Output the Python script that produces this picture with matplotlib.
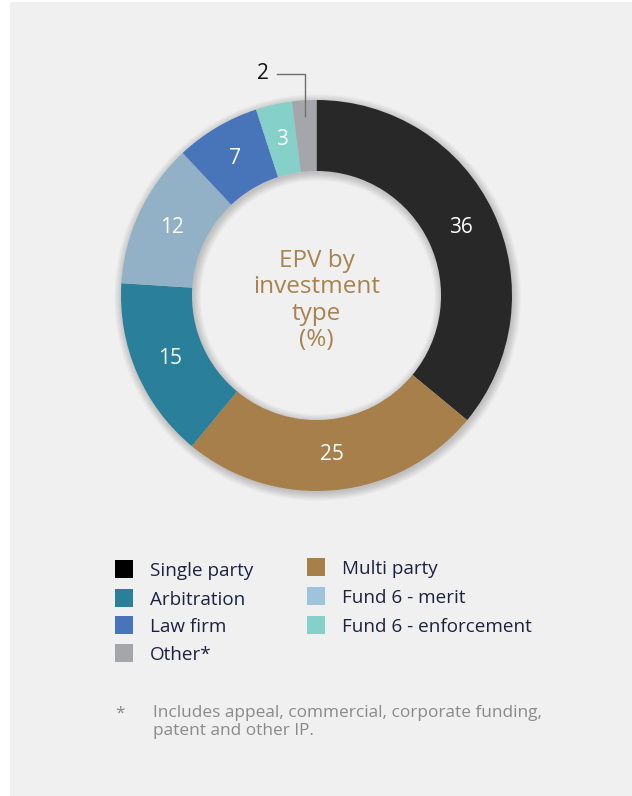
import matplotlib
matplotlib.use("Agg")
import matplotlib.pyplot as plt
from matplotlib.patches import Rectangle, Wedge
import numpy as np

plt.rcParams['font.family'] = ['Open Sans', 'DejaVu Sans']

# ---- data ----
categories = ["Single party", "Multi party", "Arbitration", "Fund 6 - merit",
              "Law firm", "Fund 6 - enforcement", "Other*"]
values = [36, 25, 15, 12, 7, 3, 2]
pie_colors = ["#282828", "#A67F4A", "#2A7F9B", "#93B1C6", "#4874BA", "#86D0CA", "#A5A6AA"]
legend_colors = ["#000000", "#A67F4A", "#2A7F9B", "#9DC3DD", "#4874BA", "#86D0CA", "#A5A6AA"]
center_title = "EPV by\ninvestment\ntype\n(%)"
footnote_mark = "*"
footnote_text = "Includes appeal, commercial, corporate funding,\npatent and other IP."

W, H = 632, 796
fig = plt.figure(figsize=(W / 100, H / 100), dpi=100)
fig.patch.set_facecolor("white")
fig.patches.append(Rectangle((9.5 / W, 0), 1 - 9.5 / W, 1 - 2 / H, transform=fig.transFigure,
                             facecolor="#F0F0F0", edgecolor="none", zorder=-10))

def fx(px):
    return px / W

def fy(py):
    return 1 - py / H

# ---- donut ----
cx, cy, R = 316.5, 295.5, 195.5
ax = fig.add_axes([fx(cx - R), fy(cy + R), 2 * R / W, 2 * R / H])
ax.set_xlim(-1, 1)
ax.set_ylim(-1, 1)
ax.axis("off")
ring_w = 0.363

# soft shadow
for i in range(10):
    ro = 1.0 + 0.0045 * i
    ri = 1.0 - ring_w - 0.0045 * i
    ax.add_patch(Wedge((0.006, -0.01), ro, 0, 360, width=ro - ri,
                       facecolor="black", edgecolor="none", alpha=0.02, zorder=0,
                       clip_on=False))

wedges, _ = ax.pie(values, colors=pie_colors, startangle=90, counterclock=False,
                   radius=1.0, wedgeprops=dict(width=ring_w, edgecolor="none"),
                   frame=False)
for w_ in wedges:
    w_.set_zorder(2)
    w_.set_clip_on(False)
ax.set_xlim(-1, 1)
ax.set_ylim(-1, 1)

lab_r = 0.817
for w_, v in zip(wedges, values):
    ang = np.deg2rad((w_.theta1 + w_.theta2) / 2)
    if v >= 3:
        ax.text(lab_r * np.cos(ang), lab_r * np.sin(ang), str(v), color="white",
                fontsize=15, ha="center", va="center", zorder=5)
    else:
        x0, y0 = 0.92 * np.cos(ang), 0.92 * np.sin(ang)
        ytop = 1.133
        xl = x0 - 0.145
        ax.plot([x0, x0, xl], [y0, ytop, ytop], color="#6E6E6E", lw=1.0,
                clip_on=False, zorder=6, solid_joinstyle="miter")
        ax.text(xl - 0.072, ytop, str(v), color="#111111", fontsize=15,
                ha="center", va="center", clip_on=False)

ax.text(0, -0.025, center_title, color="#A8824F", fontsize=17.5, ha="center",
        va="center", linespacing=1.13)

# ---- legend ----
col_x = [115, 307]
text_x = [150, 342]
rows_y = {0: [569, 598, 625, 653], 1: [567, 596, 625]}
left_idx = [0, 2, 4, 6]
right_idx = [1, 3, 5]
sq = 18
for col, idxs in enumerate([left_idx, right_idx]):
    for r, k in enumerate(idxs):
        yc = rows_y[col][r]
        fig.patches.append(Rectangle((fx(col_x[col]), fy(yc + sq / 2)), sq / W, sq / H,
                                     transform=fig.transFigure, facecolor=legend_colors[k],
                                     edgecolor="none"))
        fig.text(fx(text_x[col]), fy(yc), categories[k], color="#1C2340", fontsize=13.6,
                 ha="left", va="center_baseline")

# ---- footnote ----
fig.text(fx(115), fy(706), footnote_mark, color="#8A8A8A", fontsize=12.5, ha="left", va="top")
fig.text(fx(153), fy(705), footnote_text, color="#8A8A8A", fontsize=12.4, ha="left",
         va="top", linespacing=1.15)

fig.savefig("out.png", dpi=100, facecolor=fig.get_facecolor())
